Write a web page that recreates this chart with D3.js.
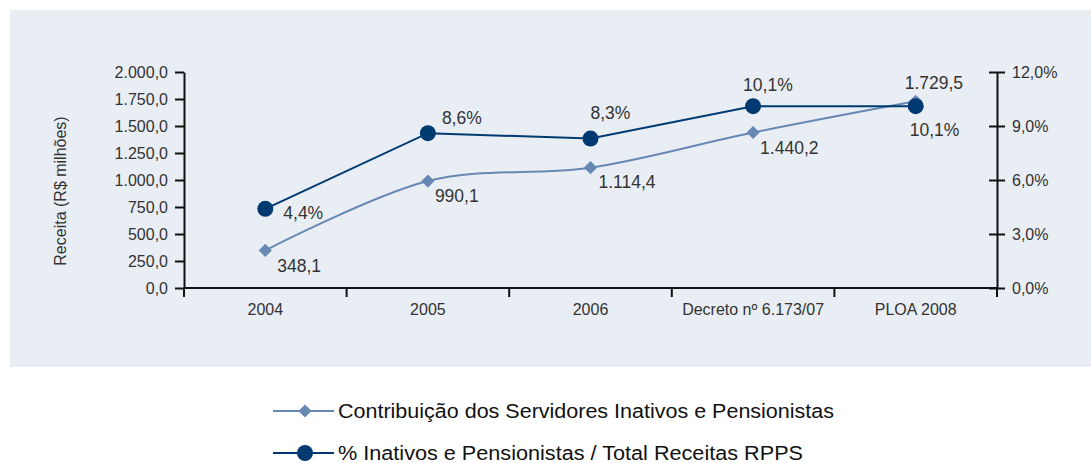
<!DOCTYPE html>
<html>
<head>
<meta charset="utf-8">
<script src="https://cdn.jsdelivr.net/npm/d3@7"></script>
<style>
  body { margin: 0; background: #fff; }
  svg text { font-family: 'Liberation Sans', Arial, sans-serif; fill: #333; }
  .axis path, .axis line { stroke: #111; stroke-width: 2; }
  .axis text { font-size: 16px; fill: #333; }
</style>
</head>
<body>
<script>
// categories and series
const categories = ['2004', '2005', '2006', 'Decreto nº 6.173/07', 'PLOA 2008']
const contribuicao = [348.1, 990.1, 1114.4, 1440.2, 1729.5]
const percentual = [4.4, 8.6, 8.3, 10.1, 10.1]
const leftTicks = [0, 250, 500, 750, 1000, 1250, 1500, 1750, 2000]
const rightTicks = [0, 3, 6, 9, 12]
const legendNames = ['Contribuição dos Servidores Inativos e Pensionistas', '% Inativos e Pensionistas / Total Receitas RPPS']

const lightColor = '#6688b3'
const darkColor = '#003a70'

const svg = d3.select('body').append('svg').attr('width', 1091).attr('height', 463)

svg.append('rect').attr('x', 10).attr('y', 10).attr('width', 1081).attr('height', 357).attr('fill', '#e9eef5')

const plotLeft = 184, plotRight = 997, plotTop = 72, plotBottom = 288

const fmt = d3.formatLocale({ decimal: ',', thousands: '.', grouping: [3], currency: ['R$', ''] })
const numFmt = fmt.format(',.1f')
const pctFmt = d => fmt.format(',.1f')(d) + '%'

const x = d3.scaleBand().domain(categories).range([plotLeft, plotRight])
const yL = d3.scaleLinear().domain([0, 2000]).range([plotBottom, plotTop])
const yR = d3.scaleLinear().domain([0, 12]).range([plotBottom, plotTop])
const cx = i => x(categories[i]) + x.bandwidth() / 2

// x axis, ticks on the band boundaries
const xAxisG = svg.append('g').attr('class', 'axis').attr('transform', `translate(0, ${plotBottom})`)
xAxisG.append('line').attr('x1', plotLeft).attr('x2', plotRight)
xAxisG.selectAll('line.tk')
  .data(categories.map(c => x(c)).concat([plotRight]))
  .enter().append('line').attr('class', 'tk')
  .attr('x1', d => d).attr('x2', d => d).attr('y1', 0).attr('y2', 9)
xAxisG.selectAll('text')
  .data(categories)
  .enter().append('text')
  .attr('x', d => x(d) + x.bandwidth() / 2)
  .attr('y', 27)
  .attr('text-anchor', 'middle')
  .text(d => d)

const axisL = d3.axisLeft(yL).tickValues(leftTicks).tickSize(9).tickSizeOuter(0).tickFormat(numFmt)
svg.append('g').attr('class', 'axis').attr('transform', `translate(${plotLeft}, 0)`).call(axisL)
  .call(g => g.selectAll('.tick text').attr('x', -16).attr('dy', '0.32em'))

const axisR = d3.axisRight(yR).tickValues(rightTicks).tickSize(8).tickSizeOuter(0).tickFormat(pctFmt)
svg.append('g').attr('class', 'axis').attr('transform', `translate(${plotRight}, 0)`).call(axisR)
  .call(g => g.selectAll('.tick line').attr('x1', -8))
  .call(g => g.selectAll('.tick text').attr('x', 15).attr('dy', '0.32em'))

svg.append('text')
  .attr('transform', 'translate(66, 191) rotate(-90)')
  .attr('text-anchor', 'middle')
  .attr('font-size', 16)
  .text('Receita (R$ milhões)')

// light series, smoothed
const lineL = d3.line().x((d, i) => cx(i)).y(d => yL(d)).curve(d3.curveCardinal.tension(0))
svg.append('path').datum(contribuicao).attr('d', lineL)
  .attr('fill', 'none').attr('stroke', lightColor).attr('stroke-width', 2)
svg.selectAll('path.diamond').data(contribuicao).enter().append('path')
  .attr('class', 'diamond')
  .attr('d', d3.symbol(d3.symbolDiamond2, 110))
  .attr('transform', (d, i) => `translate(${cx(i)}, ${yL(d)})`)
  .attr('fill', lightColor)

// dark series
const lineR = d3.line().x((d, i) => cx(i)).y(d => yR(d))
svg.append('path').datum(percentual).attr('d', lineR)
  .attr('fill', 'none').attr('stroke', darkColor).attr('stroke-width', 2)
svg.selectAll('circle.pt').data(percentual).enter().append('circle')
  .attr('class', 'pt')
  .attr('cx', (d, i) => cx(i)).attr('cy', d => yR(d)).attr('r', 8)
  .attr('fill', darkColor)

// data label offsets [dx, dy]
const lightLabelPos = [[12, 22], [7, 21], [8, 20], [7, 22], [-11, -12]]
const darkLabelPos = [[18, 10], [14, -9], [0, -20], [-10, -15], [-6, 30]]

svg.selectAll('text.lbl1').data(contribuicao).enter().append('text')
  .attr('class', 'lbl1')
  .attr('x', (d, i) => cx(i) + lightLabelPos[i][0])
  .attr('y', (d, i) => yL(d) + lightLabelPos[i][1])
  .attr('font-size', 17.5)
  .text(d => numFmt(d))

svg.selectAll('text.lbl2').data(percentual).enter().append('text')
  .attr('class', 'lbl2')
  .attr('x', (d, i) => cx(i) + darkLabelPos[i][0])
  .attr('y', (d, i) => yR(d) + darkLabelPos[i][1])
  .attr('font-size', 17.5)
  .text(pctFmt)

// legend
const legend = svg.append('g')
const legendY = [411, 453]
const legendW = [496, 465]
legendNames.forEach((name, i) => {
  const col = i === 0 ? lightColor : darkColor
  legend.append('line').attr('x1', 273).attr('x2', 334).attr('y1', legendY[i]).attr('y2', legendY[i])
    .attr('stroke', col).attr('stroke-width', 2)
  if (i === 0) {
    legend.append('path').attr('d', d3.symbol(d3.symbolDiamond2, 110))
      .attr('transform', `translate(305, ${legendY[i]})`).attr('fill', col)
  } else {
    legend.append('circle').attr('cx', 305).attr('cy', legendY[i]).attr('r', 8).attr('fill', col)
  }
  legend.append('text').attr('x', 338).attr('y', legendY[i] + 7)
    .attr('font-size', 20)
    .attr('textLength', legendW[i]).attr('lengthAdjust', 'spacingAndGlyphs')
    .style('fill', '#111')
    .text(name)
})
</script>
</body>
</html>
